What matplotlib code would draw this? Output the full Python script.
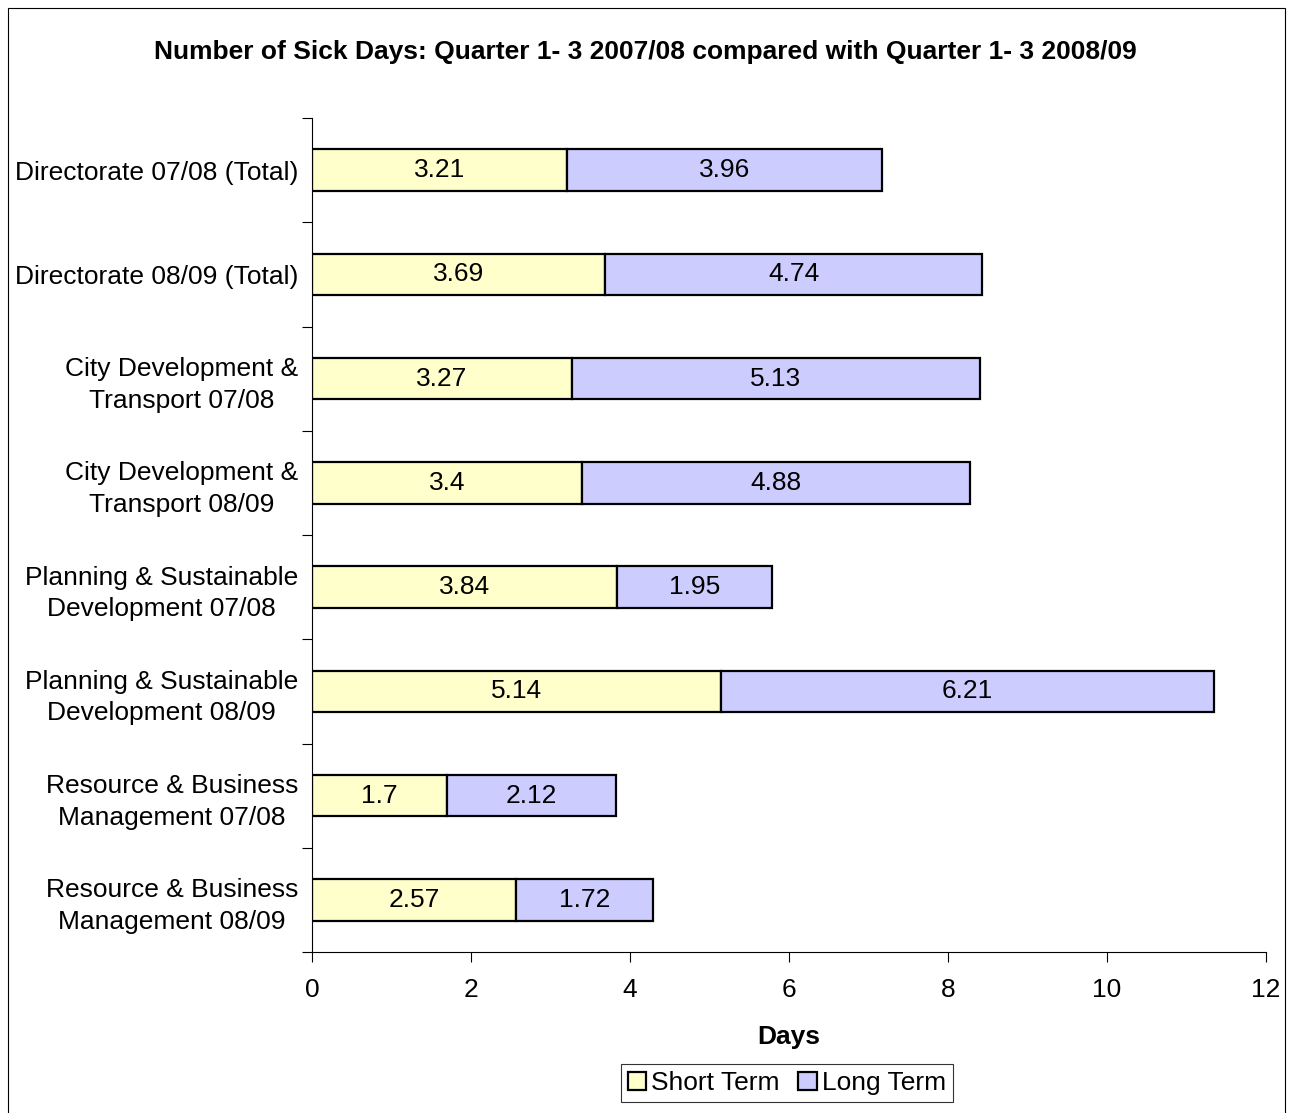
import matplotlib
matplotlib.use("Agg")
import matplotlib.pyplot as plt
from matplotlib.patches import Rectangle
import numpy as np

plt.rcParams['font.family'] = ['Liberation Sans', 'DejaVu Sans']

categories = [
    "Directorate 07/08 (Total)",
    "Directorate 08/09 (Total)",
    "City Development &\nTransport 07/08",
    "City Development &\nTransport 08/09",
    "Planning & Sustainable\nDevelopment 07/08",
    "Planning & Sustainable\nDevelopment 08/09",
    "Resource & Business\nManagement 07/08",
    "Resource & Business\nManagement 08/09",
]
short_term = [3.21, 3.69, 3.27, 3.4, 3.84, 5.14, 1.7, 2.57]
long_term = [3.96, 4.74, 5.13, 4.88, 1.95, 6.21, 2.12, 1.72]
x_ticks = [0, 2, 4, 6, 8, 10, 12]

FS = 19
W, H = 1292, 1113
fig = plt.figure(figsize=(W / 100, H / 100), dpi=100)
ax = fig.add_axes([312 / W, 1 - 952 / H, (1266 - 312) / W, (952 - 118) / H])

y = np.arange(len(categories))
bh = 0.4
ax.barh(y, short_term, height=bh, color="#FFFFCC", edgecolor="black", linewidth=1.6, label="Short Term")
ax.barh(y, long_term, left=short_term, height=bh, color="#CCCCFF", edgecolor="black", linewidth=1.6, label="Long Term")

for i in range(len(categories)):
    ax.text(short_term[i] / 2, y[i], f"{short_term[i]:g}", ha="center", va="center", fontsize=FS)
    ax.text(short_term[i] + long_term[i] / 2, y[i], f"{long_term[i]:g}", ha="center", va="center", fontsize=FS)

ax.set_ylim(len(categories) - 0.5, -0.5)
ax.set_xlim(0, 12)
ax.set_xticks(x_ticks)
ax.set_xticklabels([str(t) for t in x_ticks], fontsize=FS)
ax.set_yticks(y)
ax.set_yticklabels(categories, fontsize=FS, multialignment="center", linespacing=1.4)
ax.set_yticks(np.arange(len(categories) + 1) - 0.5, minor=True)
ax.tick_params(axis="y", which="major", length=0, pad=10)
ax.tick_params(axis="y", which="minor", length=7, width=0.8, direction="out")
ax.tick_params(axis="x", length=7, width=0.8, direction="out", pad=12)
ax.spines["top"].set_visible(False)
ax.spines["right"].set_visible(False)
ax.spines["left"].set_linewidth(0.8)
ax.spines["bottom"].set_linewidth(0.8)

ax.set_xlabel("Days", fontsize=FS, fontweight="bold", labelpad=16)
fig.text(645 / W, 1 - 52 / H, "Number of Sick Days: Quarter 1- 3 2007/08 compared with Quarter 1- 3 2008/09",
         ha="center", va="center", fontsize=FS, fontweight="bold")

leg = ax.legend(loc="center", bbox_to_anchor=(787 / W, 1 - 1083 / H), bbox_transform=fig.transFigure,
                ncol=2, fontsize=FS, frameon=True, fancybox=False, edgecolor="black",
                handlelength=0.7, handleheight=0.7, handletextpad=0.2, columnspacing=0.7,
                borderpad=0.25)
leg.get_frame().set_linewidth(0.8)

fig.patches.append(Rectangle((8 / W, -0.01), (1285 - 8) / W, 1 - 8 / H + 0.01, transform=fig.transFigure,
                             fill=False, edgecolor="black", linewidth=0.8))

fig.savefig("out.png", dpi=100)
